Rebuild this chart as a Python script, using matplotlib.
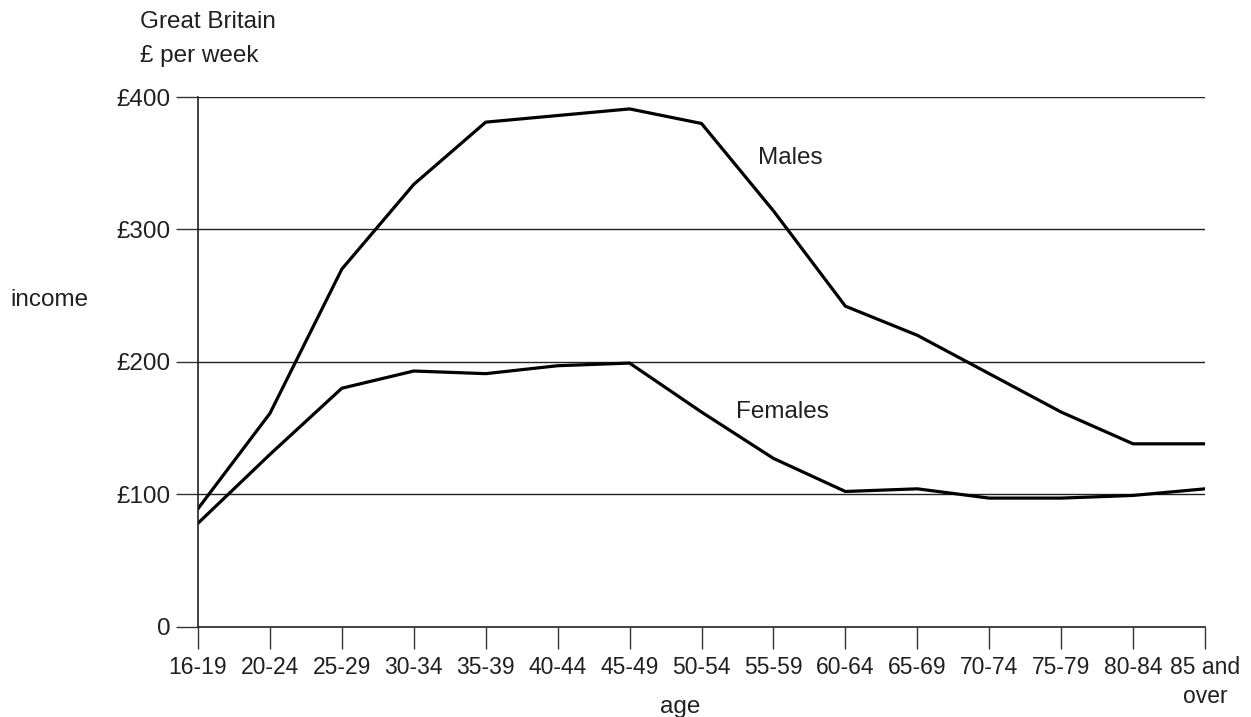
import matplotlib
matplotlib.use("Agg")
import matplotlib.pyplot as plt

plt.rcParams["font.family"] = ["Liberation Sans", "DejaVu Sans"]

ages = ["16-19", "20-24", "25-29", "30-34", "35-39", "40-44", "45-49", "50-54",
        "55-59", "60-64", "65-69", "70-74", "75-79", "80-84", "85 and\nover"]
males = [89, 161, 270, 334, 381, 386, 391, 380, 314, 242, 220, 191, 162, 138, 138]
females = [78, 130, 180, 193, 191, 197, 199, 162, 127, 102, 104, 97, 97, 99, 104]
yticks = [0, 100, 200, 300, 400]
ylabels = ["0", "£100", "£200", "£300", "£400"]

txt = "#231f20"
fs = 17.5
fig = plt.figure(figsize=(12.51, 7.17), dpi=100)
ax = fig.add_axes([198 / 1251, 1 - 626.5 / 717, (1205 - 198) / 1251, (626.5 - 97) / 717])

x = list(range(len(ages)))
ax.plot(x, males, color="black", lw=2.3, solid_joinstyle="miter")
ax.plot(x, females, color="black", lw=2.3, solid_joinstyle="miter")

for v in yticks[1:]:
    ax.axhline(v, color="#222222", lw=1.0, zorder=0)

ax.set_xlim(0, len(ages) - 1)
ax.set_ylim(0, 400)
ax.set_xticks(x)
ax.set_xticklabels(ages, fontsize=16.5, color=txt, linespacing=1.35)
ax.set_yticks(yticks)
ax.set_yticklabels(ylabels, fontsize=fs, color=txt)
ax.tick_params(axis="x", length=16, width=1, color="#333333", pad=5)
ax.tick_params(axis="y", length=16, width=1, color="#333333", pad=4)

for s in ["top", "right"]:
    ax.spines[s].set_visible(False)
for s in ["left", "bottom"]:
    ax.spines[s].set_linewidth(1.2)
    ax.spines[s].set_color("#222222")

fig.text(140 / 1251, 1 - 22 / 717, "Great Britain", fontsize=fs, color=txt, va="center")
fig.text(140 / 1251, 1 - 56 / 717, "£ per week", fontsize=fs, color=txt, va="center")
fig.text(10 / 1251, 1 - 300 / 717, "income", fontsize=fs, color=txt, va="center")
fig.text(680 / 1251, 1 - 707 / 717, "age", fontsize=fs, color=txt, ha="center", va="center")

ax.text(8.24, 354, "Males", fontsize=fs, color=txt, va="center", ha="center")
ax.text(8.13, 162, "Females", fontsize=fs, color=txt, va="center", ha="center")

fig.savefig("out.png", dpi=100)
